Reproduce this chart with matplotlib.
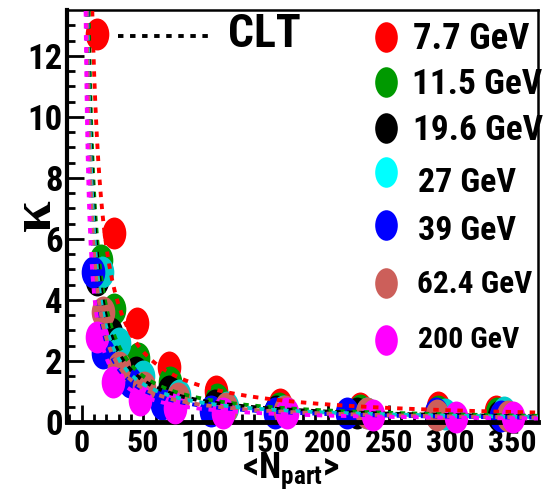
import numpy as np
import matplotlib
matplotlib.use("Agg")
import matplotlib.pyplot as plt
from matplotlib.path import Path
from matplotlib.transforms import Affine2D
from matplotlib import font_manager

# --- data ---
labels = ["7.7 GeV", "11.5 GeV", "19.6 GeV", "27 GeV", "39 GeV", "62.4 GeV", "200 GeV"]
colors = ["#ff0000", "#009900", "#000000", "#00cccc", "#0000ff", "#cc5f5a", "#ff00ff"]
legend_colors = ["#ff0000", "#009900", "#000000", "#00ffff", "#0000ff", "#cc5f5a", "#ff00ff"]

npart_77 = [12, 26, 45, 71, 109, 161, 226, 290, 337]
kappa_77 = [12.7, 6.2, 3.25, 1.8, 1.0, 0.6, 0.45, 0.5, 0.36]
npart_115 = [16, 26, 46, 72, 110, 160, 226, 290, 338]
kappa_115 = [5.3, 3.7, 2.1, 1.3, 0.75, 0.45, 0.4, 0.35, 0.3]
npart_196 = [12.6, 24, 44, 71, 108, 158, 224, 289, 339]
kappa_196 = [4.65, 2.9, 1.65, 1.0, 0.55, 0.35, 0.3, 0.25, 0.2]
npart_27 = [16.7, 30.5, 50, 79, 118, 164, 232, 295, 343]
kappa_27 = [4.9, 2.6, 1.5, 0.9, 0.5, 0.35, 0.3, 0.25, 0.33]
npart_39 = [9.3, 17, 39, 65, 105, 157, 216, 288, 341]
kappa_39 = [4.9, 2.25, 1.3, 0.6, 0.35, 0.3, 0.3, 0.3, 0.2]
npart_624 = [17.5, 30.5, 51, 78, 117, 165, 232, 289, 347]
kappa_624 = [3.6, 1.8, 1.15, 0.8, 0.45, 0.35, 0.28, 0.23, 0.2]
npart_200 = [12.6, 25.6, 47, 76, 115, 167, 237, 304, 351]
kappa_200 = [2.8, 1.3, 0.72, 0.46, 0.3, 0.3, 0.23, 0.17, 0.17]

# CLT expectation: kappa * <Npart> = const for each energy
clt_const = [115, 75, 68, 62, 52, 55, 42]

npart = [npart_77, npart_115, npart_196, npart_27, npart_39, npart_624, npart_200]
kappa = [kappa_77, kappa_115, kappa_196, kappa_27, kappa_39, kappa_624, kappa_200]

# --- fonts: want a narrow bold sans (reference is Helvetica squeezed) ---
bold_faces = {f.name for f in font_manager.fontManager.ttflist
              if f.weight in (700, "bold") and "[" not in f.fname}
narrow = "Liberation Sans"
for cand in ["Liberation Sans Narrow", "Arial Narrow", "Roboto Condensed", "Archivo Narrow",
             "PT Sans Narrow", "Fira Sans Condensed", "IBM Plex Sans Condensed",
             "Open Sans Condensed", "Noto Sans Condensed", "Saira SemiCondensed"]:
    if cand in bold_faces:
        narrow = cand
        break
plt.rcParams["font.family"] = [narrow, "DejaVu Sans"]
plt.rcParams["font.weight"] = "bold"

# ROOT-like stretched circle marker
ellipse = Path.unit_circle().transformed(Affine2D().scale(0.74, 1.0))

W, H = 544, 493
fig = plt.figure(figsize=(W / 100, H / 100), dpi=100)
ax = fig.add_axes([67 / W, 1 - 422 / H, (538 - 67) / W, (422 - 10) / H])

order = [0, 1, 2, 4, 3, 5, 6]  # drawing order seen in the plot
for i in order:
    ax.plot(npart[i], kappa[i], ls="none", marker=ellipse, ms=23,
            mfc=colors[i], mec="none", clip_on=False, zorder=2 + i * 0.1)

xs = np.linspace(1, 371, 3000)
for i in range(len(labels)):
    ax.plot(xs, clt_const[i] / xs, color=colors[i], lw=2.8,
            dashes=(1.4, 1.7), dash_capstyle="butt", zorder=4)

ax.set_xlim(-12, 371)
ax.set_ylim(0, 13.5)
ax.set_xticks(np.arange(0, 351, 50))
ax.set_xticks(np.arange(-10, 371, 10), minor=True)
ax.set_yticks(np.arange(0, 13, 2))
ax.set_yticks(np.arange(0, 13.5, 0.5), minor=True)
ax.tick_params(axis="both", which="both", direction="in", top=False, right=False, width=2)
ax.tick_params(axis="both", which="major", length=12)
ax.tick_params(axis="both", which="minor", length=6)
ax.tick_params(axis="y", which="major", labelsize=25, pad=3)
ax.tick_params(axis="x", which="major", labelsize=23, pad=4)
for lab in ax.get_xticklabels() + ax.get_yticklabels():
    lab.set_fontweight("bold")
ax.spines["left"].set_linewidth(3)
ax.spines["bottom"].set_linewidth(3.5)
ax.spines["top"].set_linewidth(1.8)
ax.spines["right"].set_linewidth(1.8)

# axis titles
fig.text(291 / W, 1 - 478 / H, "<N$_{\\mathregular{part}}$>", fontsize=26,
         fontweight="bold", ha="center", va="baseline")
fig.text(36 / W, 1 - 215 / H, "\u03ba", family=["Liberation Serif", "DejaVu Serif"],
         fontsize=41, fontweight="bold", rotation=90, ha="center", va="center")

# CLT legend entry
ax.plot([118 / W, 212 / W], [1 - 36 / H, 1 - 36 / H], transform=fig.transFigure,
        color="black", lw=2.8, dashes=(1.4, 1.7), dash_capstyle="butt", clip_on=False)
fig.text(228 / W, 1 - 34 / H, "CLT", fontsize=33, fontweight="bold", va="center")

# energy legend
marker_y = [37, 82, 128, 172, 225, 283, 340]
text_x = [413, 412, 413, 418, 418, 417, 418]
text_y = [39, 84, 131, 183, 231, 284, 340]
text_size = [26.5, 25.5, 25.5, 24.5, 24.5, 22.5, 21.5]
for i in range(len(labels)):
    ax.plot([386 / W], [1 - marker_y[i] / H], transform=fig.transFigure, ls="none",
            marker=ellipse, ms=22, mfc=legend_colors[i], mec="none", clip_on=False)
    fig.text(text_x[i] / W, 1 - text_y[i] / H, labels[i], fontsize=text_size[i],
             fontweight="bold", va="center")

fig.savefig("out.png", dpi=100)
